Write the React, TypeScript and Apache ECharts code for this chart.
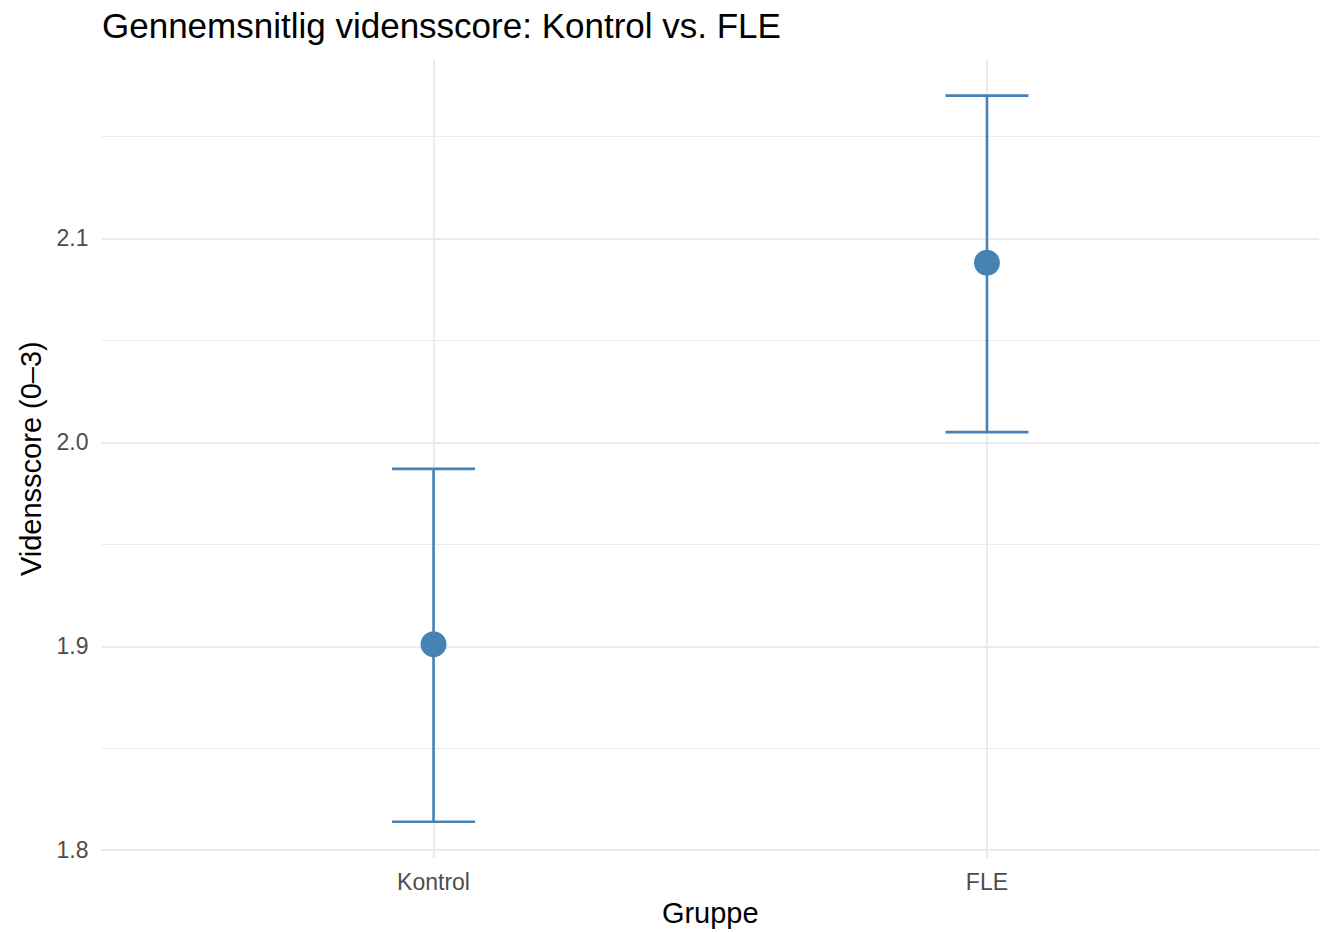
import React, { useEffect, useRef } from "react";
import * as echarts from "echarts";

const categories: string[] = ["Kontrol", "FLE"];
const means: number[] = [1.901, 2.088];
const lowerCI: number[] = [1.814, 2.005];
const upperCI: number[] = [1.987, 2.170];
const majorTicks: number[] = [1.8, 1.9, 2.0, 2.1];
const minorTicks: number[] = [1.85, 1.95, 2.05, 2.15];

const titleText = "Gennemsnitlig vidensscore: Kontrol vs. FLE";
const xTitle = "Gruppe";
const yTitle = "Vidensscore (0–3)";

const FONT = "'Liberation Sans', Arial, Helvetica, sans-serif";
const BLUE = "#4682B4";
const GRID = "#ebebeb";

export default function App() {
  const ref = useRef<HTMLDivElement>(null);
  useEffect(() => {
    if (!ref.current) return;
    const chart = echarts.init(ref.current, null, { renderer: "svg" });
    const lo = Math.min(...lowerCI);
    const hi = Math.max(...upperCI);
    const pad = (hi - lo) * 0.05;
    const yMin = lo - pad;
    const yMax = hi + pad;
    const xIdx = categories.map((_, i) => i);

    const option: any = {
      animation: false,
      backgroundColor: "#ffffff",
      textStyle: { fontFamily: FONT },
      title: {
        text: titleText,
        left: 97,
        top: 3,
        textStyle: { fontFamily: FONT, fontSize: 35, fontWeight: "normal", color: "#000000" },
      },
      grid: { left: 101.5, right: 9, top: 59.3, bottom: 71.2, containLabel: false },
      xAxis: {
        type: "value",
        min: -0.6,
        max: categories.length - 1 + 0.6,
        name: xTitle,
        nameLocation: "middle",
        nameGap: 40,
        nameTextStyle: { fontFamily: FONT, fontSize: 29, color: "#000000" },
        axisLine: { show: false },
        axisTick: { show: false, customValues: xIdx },
        axisLabel: {
          customValues: xIdx,
          formatter: (v: number) => categories[Math.round(v)] ?? "",
          color: "#4d4d4d",
          fontSize: 23,
          fontFamily: FONT,
          margin: 12,
        },
        splitLine: { show: true, lineStyle: { color: GRID, width: 2 } },
      },
      yAxis: [
        {
          type: "value",
          min: yMin,
          max: yMax,
          name: yTitle,
          nameLocation: "middle",
          nameGap: 54,
          nameTextStyle: { fontFamily: FONT, fontSize: 29, color: "#000000" },
          axisLine: { show: false },
          axisTick: { show: false, customValues: majorTicks },
          axisLabel: {
            customValues: majorTicks,
            formatter: (v: number) => v.toFixed(1),
            color: "#4d4d4d",
            fontSize: 23,
            fontFamily: FONT,
            margin: 13,
          },
          splitLine: { show: true, lineStyle: { color: GRID, width: 2 } },
        },
        {
          type: "value",
          min: yMin,
          max: yMax,
          position: "left",
          axisLine: { show: false },
          axisTick: { show: false, customValues: minorTicks },
          axisLabel: { show: false, customValues: minorTicks },
          splitLine: { show: true, lineStyle: { color: GRID, width: 1 } },
        },
      ],
      series: [
        {
          type: "custom",
          xAxisIndex: 0,
          yAxisIndex: 0,
          data: xIdx.map((i) => [i, lowerCI[i], upperCI[i]]),
          renderItem: (params: any, api: any) => {
            const x = api.value(0);
            const pLo = api.coord([x, api.value(1)]);
            const pHi = api.coord([x, api.value(2)]);
            const left = api.coord([x - 0.075, api.value(1)])[0];
            const right = api.coord([x + 0.075, api.value(1)])[0];
            const style = { stroke: BLUE, lineWidth: 2.6, fill: "none" };
            return {
              type: "group",
              children: [
                { type: "line", shape: { x1: pLo[0], y1: pLo[1], x2: pHi[0], y2: pHi[1] }, style },
                { type: "line", shape: { x1: left, y1: pHi[1], x2: right, y2: pHi[1] }, style },
                { type: "line", shape: { x1: left, y1: pLo[1], x2: right, y2: pLo[1] }, style },
              ],
            };
          },
          z: 3,
        },
        {
          type: "scatter",
          xAxisIndex: 0,
          yAxisIndex: 0,
          data: xIdx.map((i) => [i, means[i]]),
          symbol: "circle",
          symbolSize: 26,
          itemStyle: { color: BLUE, opacity: 1 },
          z: 4,
        },
      ],
    };
    chart.setOption(option);
    return () => chart.dispose();
  }, []);
  return (
    <div
      ref={ref}
      style={{ position: "fixed", left: 0, top: 0, width: 1328, height: 932, background: "#fff" }}
    />
  );
}
